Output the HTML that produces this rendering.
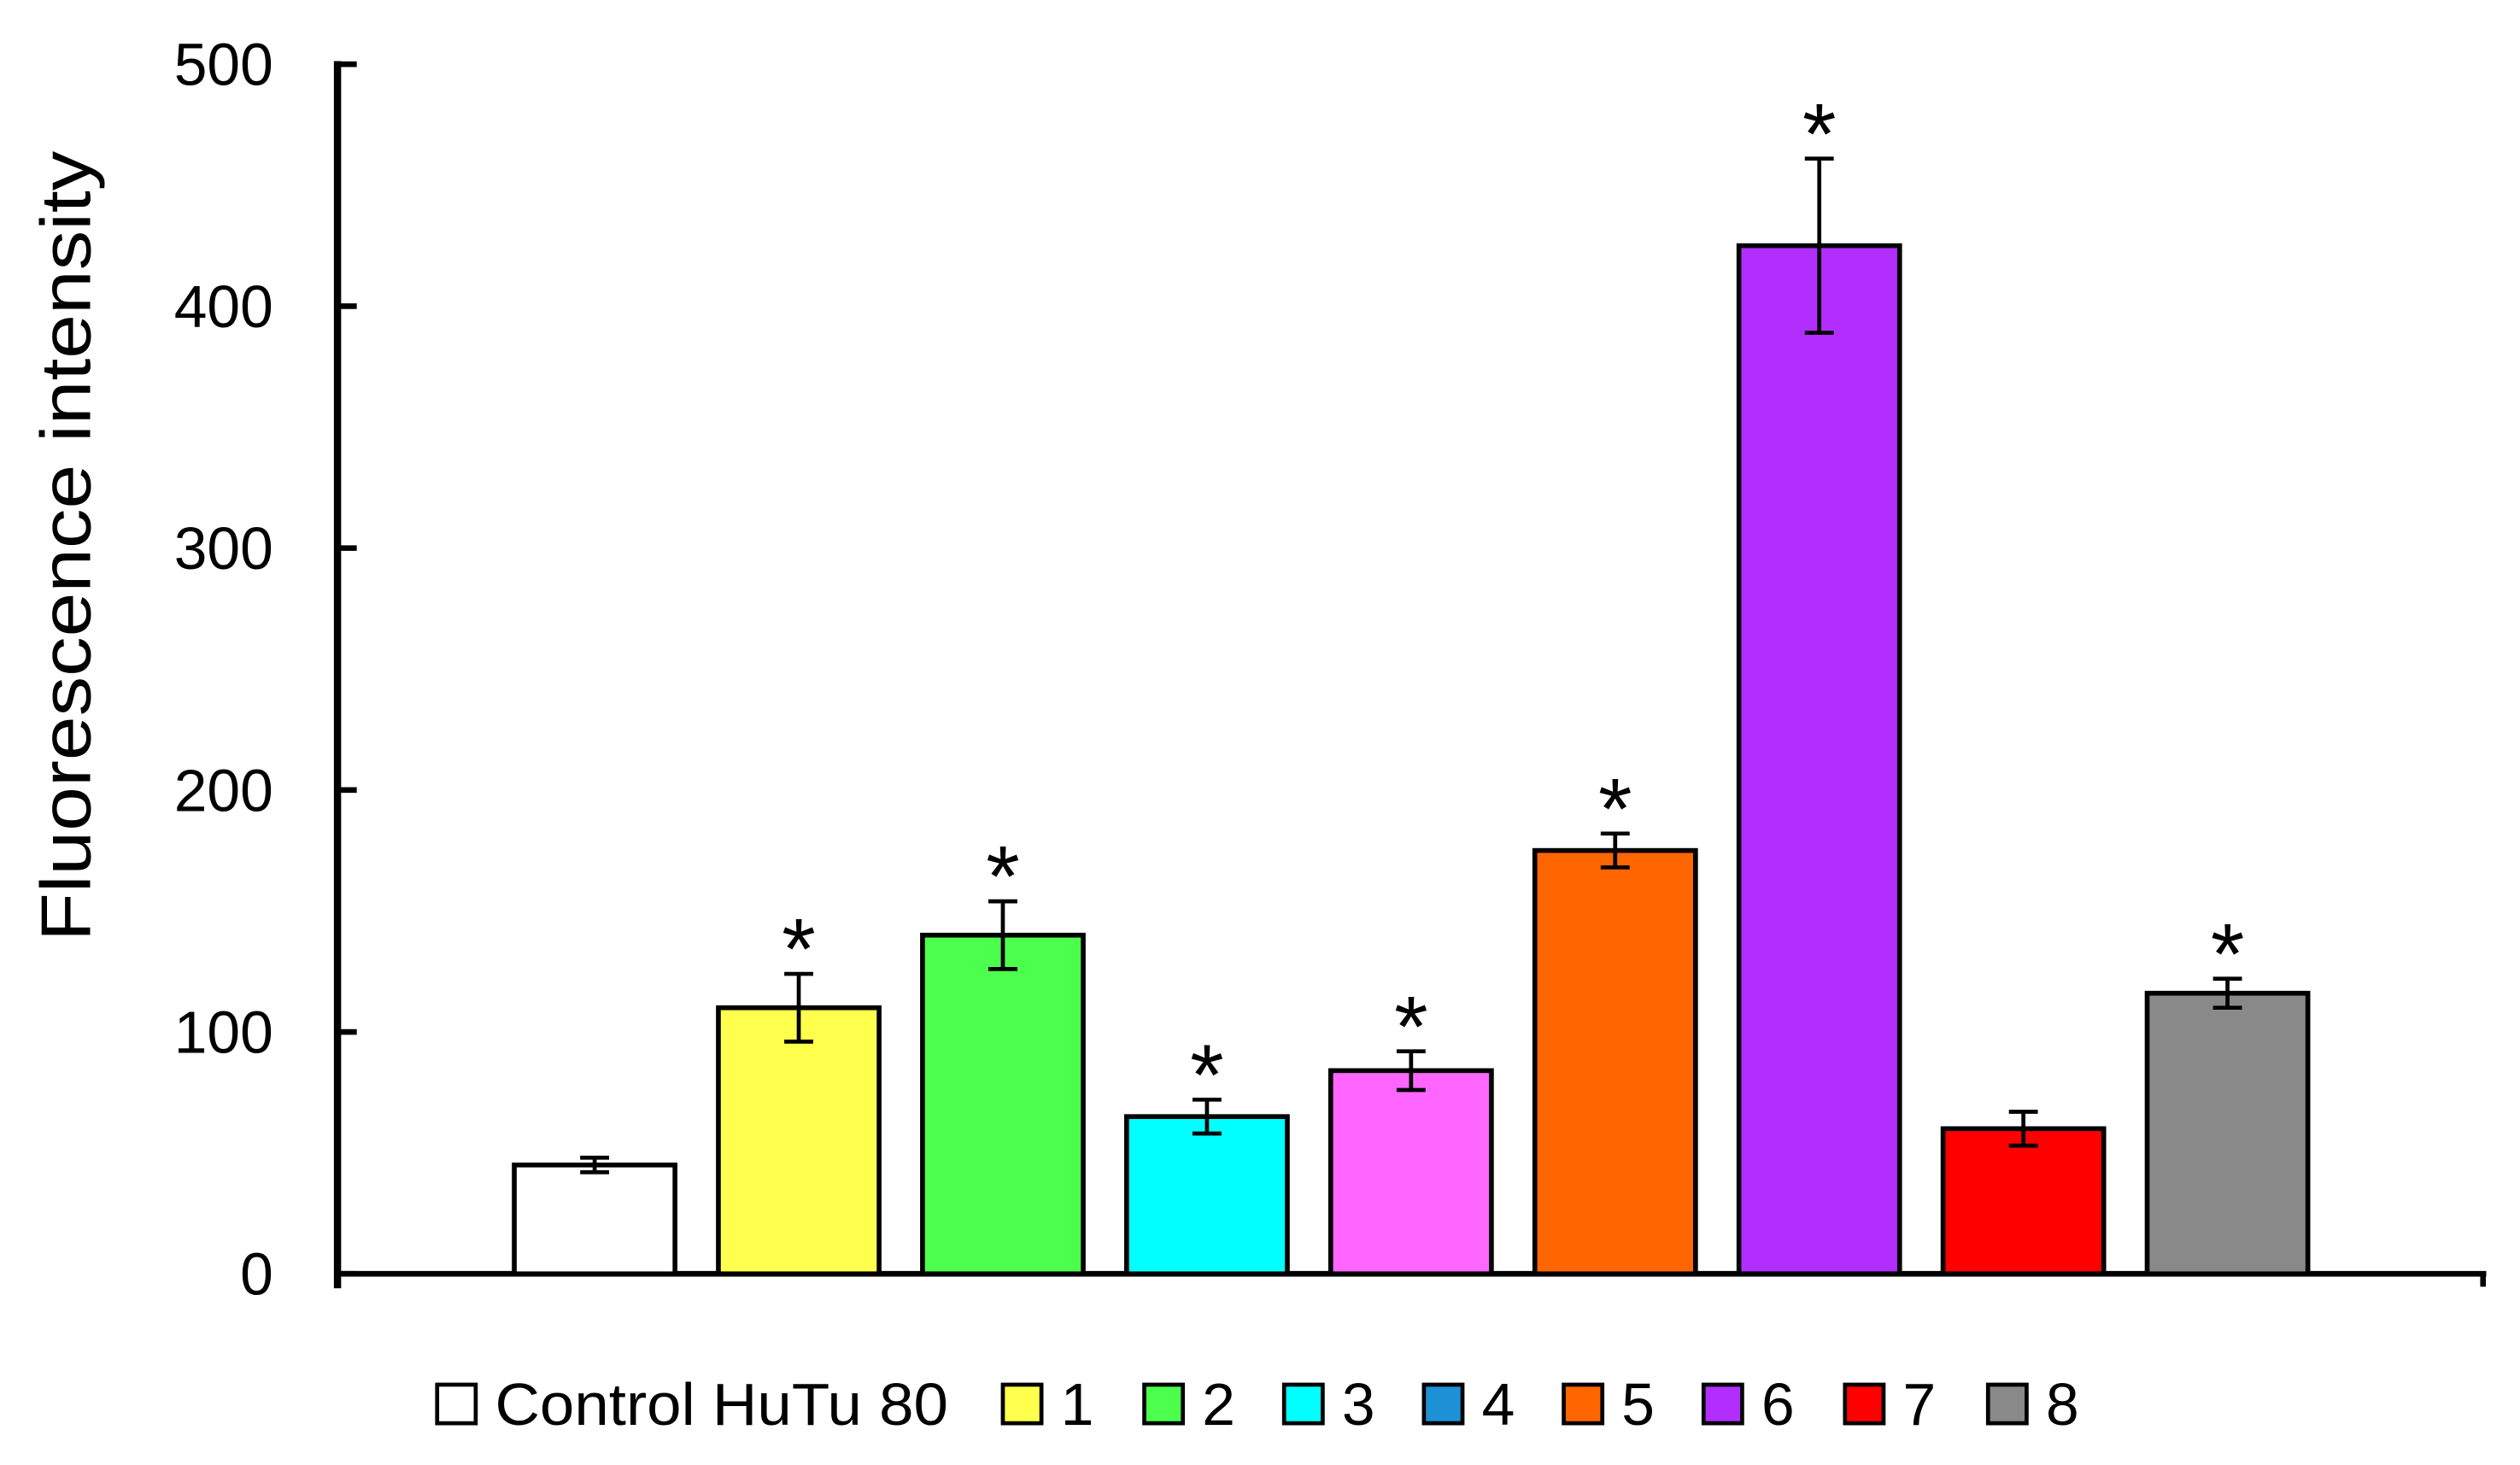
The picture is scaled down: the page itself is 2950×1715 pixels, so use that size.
<!DOCTYPE html>
<html><head><meta charset="utf-8"><style>
html,body{margin:0;padding:0;background:#fff;}
svg{display:block;font-family:"Liberation Sans",sans-serif;}
</style></head><body>
<svg id="chart" width="2950" height="1715" viewBox="0 0 1568 912" preserveAspectRatio="none" xmlns="http://www.w3.org/2000/svg">
<g id="axes"></g>
<g id="bars"></g>
<g id="legend"></g>
<text transform="translate(56,340) rotate(-90)" text-anchor="middle" font-size="44" textLength="492" lengthAdjust="spacingAndGlyphs">Fluorescence intensity</text>
</svg>
<script>
const categories = ["Control HuTu 80","1","2","3","4","5","6","7","8"];
const values = [45,110,140,65,84,175,425,60,116];
const errors = [3,14,14,7,8,7,36,7,6];
const significant = [false,true,true,true,true,true,true,false,true];
const barColors = ["#ffffff","#ffff4d","#4dff4d","#00ffff","#ff66ff","#ff6600","#b22eff","#ff0000","#898989"];
const legendLabels = ["Control HuTu 80","1","2","3","4","5","6","7","8"];
const legendColors = ["#ffffff","#ffff4d","#4dff4d","#00ffff","#1e90d6","#ff6600","#b22eff","#ff0000","#898989"];
const yTicks = [0,100,200,300,400,500];

const NS="http://www.w3.org/2000/svg";
const y0=793, yTop=40, yMax=500;
function yScale(v){return y0-(v/yMax)*(y0-yTop);}
function xScale(i){return 320+i*127;}
const bw=100;
function mk(tag,attrs,parent){const e=document.createElementNS(NS,tag);for(const k in attrs)e.setAttribute(k,attrs[k]);parent.appendChild(e);return e;}
const axes=document.getElementById('axes'), bars=document.getElementById('bars'), legend=document.getElementById('legend');

const yl=mk('line',{x1:210,y1:yTop-2,x2:210,y2:y0+9,stroke:'#000','stroke-width':4.5},axes);


const xl=mk('line',{x1:208,y1:y0,x2:1547,y2:y0,stroke:'#000','stroke-width':3.5},axes);


mk('line',{x1:1545,y1:y0,x2:1545,y2:y0+8,stroke:'#000','stroke-width':3.5},axes);
yTicks.forEach(t=>{
  const y=yScale(t);
  mk('line',{x1:210,y1:y,x2:222,y2:y,stroke:'#000','stroke-width':3.5},axes);
  const tx=mk('text',{x:170,y:y+13,'text-anchor':'end','font-size':37},axes);
  tx.textContent=t;
  
  
});

values.forEach((v,i)=>{
  const x=xScale(i), y=yScale(v);
  const r=mk('rect',{x:x,y:y,width:bw,height:y0-y,fill:barColors[i],stroke:'#000','stroke-width':3},bars);
  
  
  const cx=x+bw/2, yt=yScale(v+errors[i]), yb=yScale(v-errors[i]);
  const eb=mk('g',{stroke:'#000','stroke-width':2.5},bars);
  
  
  mk('line',{x1:cx,y1:yt,x2:cx,y2:yb},eb);
  mk('line',{x1:cx-9,y1:yt,x2:cx+9,y2:yt},eb);
  mk('line',{x1:cx-9,y1:yb,x2:cx+9,y2:yb},eb);
  if(significant[i]){
    const s=mk('text',{x:cx,y:yt+3,'text-anchor':'middle','font-size':54},bars);
    s.textContent='*';
    
    
  }
});

const legX=[272,624,712,799,886,973,1060,1148,1237];
legendLabels.forEach((l,i)=>{
  const g=mk('g',{},legend);
  
  
  mk('rect',{x:legX[i],y:862,width:24,height:24,fill:legendColors[i],stroke:'#000','stroke-width':2.5},g);
  const attrs={x:legX[i]+36,y:887,'font-size':37};
  if(i===0){attrs.textLength=282;attrs.lengthAdjust='spacingAndGlyphs';}
  const t=mk('text',attrs,g);
  t.textContent=l;
});
</script>
</body></html>
